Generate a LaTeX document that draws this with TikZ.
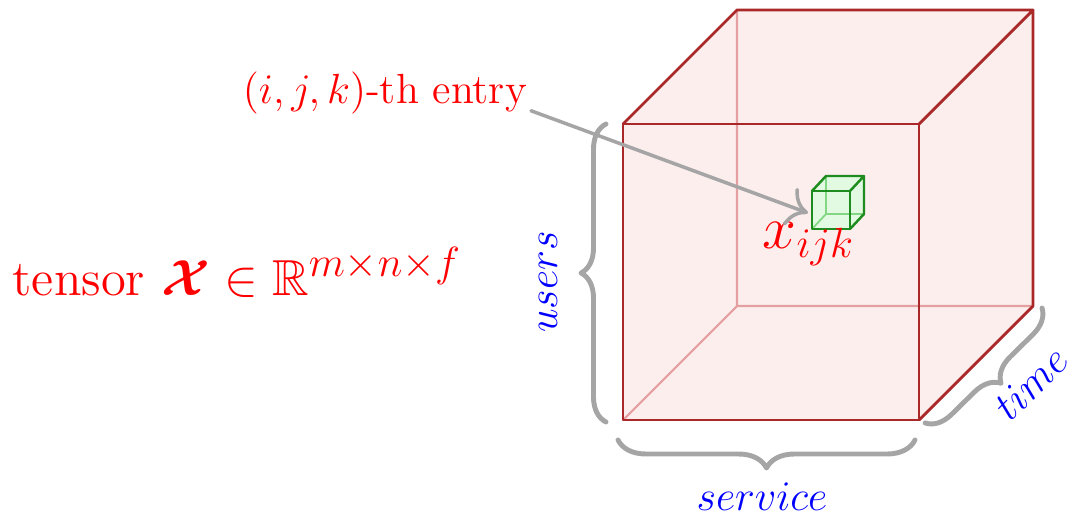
\documentclass[tikz,border=0pt]{standalone}
\usepackage{amsmath}
\usepackage{amssymb}
\usetikzlibrary{arrows.meta,decorations.pathreplacing}
\definecolor{edgec}{RGB}{170,40,40}
\definecolor{hidec}{RGB}{228,160,160}
\definecolor{facec}{RGB}{253,238,238}
\definecolor{cellc}{RGB}{30,140,30}
\definecolor{cellh}{RGB}{130,215,130}
\definecolor{cellf}{RGB}{225,250,225}
\definecolor{bracec}{RGB}{165,165,165}
\definecolor{pointc}{RGB}{165,165,165}

\begin{document}
\begin{tikzpicture}[>={Computer Modern Rightarrow[length=2mm, width=4mm]}, line cap=round, line join=round,
  brc/.style={bracec, line width=1.4pt, decorate, decoration={brace, amplitude=#1}},
  axlbl/.style={blue, font=\large},
  redlbl/.style={red, inner sep=0pt}]
  \useasboundingbox (0,0) rectangle (10.71,5.19);

  % big cube: front face f1..f4, back face b1..b4
  \coordinate (f1) at (6.23,0.99);  \coordinate (f2) at (9.19,0.99);
  \coordinate (f3) at (9.19,3.95);  \coordinate (f4) at (6.23,3.95);
  \coordinate (b1) at (7.37,2.13);  \coordinate (b2) at (10.33,2.13);
  \coordinate (b3) at (10.33,5.09); \coordinate (b4) at (7.37,5.09);

  \fill[facec] (f1) -- (f2) -- (b2) -- (b3) -- (b4) -- (f4) -- cycle;
  % hidden edges (seen through the faces)
  \draw[hidec, line width=0.6pt] (f1) -- (b1) -- (b2) (b1) -- (b4);
  % visible edges
  \draw[edgec, line width=0.8pt] (f1) rectangle (f3);
  \draw[edgec, line width=0.8pt] (f4) -- (b4) -- (b3) -- (f3) (b3) -- (b2) -- (f2);

  % one cell of the tensor
  \coordinate (c1) at (8.12,2.90); \coordinate (c2) at (8.50,2.90);
  \coordinate (c3) at (8.50,3.28); \coordinate (c4) at (8.12,3.28);
  \coordinate (d1) at (8.26,3.05); \coordinate (d2) at (8.64,3.05);
  \coordinate (d3) at (8.64,3.43); \coordinate (d4) at (8.26,3.43);
  \fill[cellf] (c1) -- (c2) -- (d2) -- (d3) -- (d4) -- (c4) -- cycle;
  \draw[cellh, line width=0.5pt] (c1) -- (d1) -- (d2) (d1) -- (d4);
  \draw[cellc, line width=0.7pt] (c1) rectangle (c3);
  \draw[cellc, line width=0.7pt] (c4) -- (d4) -- (d3) -- (c3) (d3) -- (d2) -- (c2);
  \coordinate (cellw) at (8.08,3.06);

  \node[redlbl, font=\LARGE, anchor=base west] (xijk) at (7.62,2.71) {$x_{ijk}$};

  % labels on the left
  \node[redlbl, font=\large, anchor=base east, inner sep=1pt] (entry) at (5.31,4.16) {$(i,j,k)$-th entry};
  \node[redlbl, font=\Large, anchor=base west] (tensor) at (0.12,2.24)
    {tensor $\boldsymbol{\mathcal{X}}\in\mathbb{R}^{\mbox{\large$m{\times}n{\times}f$}}$};

  \draw[->, pointc, line width=1pt] ([yshift=2pt]entry.south east) -- (cellw);

  % dimension braces
  \draw[brc=0.25cm] (6.06,0.97) -- (6.06,3.95);
  \draw[brc=0.28cm] (9.15,0.79) -- (6.18,0.79);
  \draw[brc=0.25cm] (10.42,2.11) -- (9.25,0.96);

  \node[axlbl, rotate=90] (users) at (5.48,2.37) {$users$};
  \node[axlbl] (service) at (7.62,0.22) {$service$};
  \node[axlbl, rotate=45] (time) at (10.31,1.36) {$time$};
\end{tikzpicture}
\end{document}
